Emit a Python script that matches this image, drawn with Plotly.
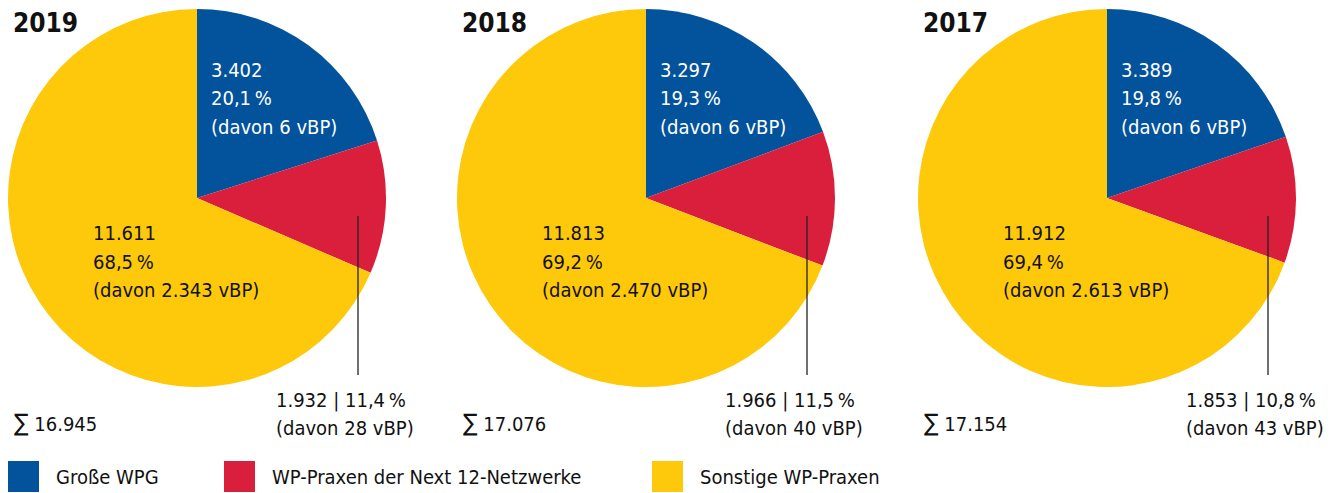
import plotly.graph_objects as go

# ─────────────────────────────────────────────
# Daten
# ─────────────────────────────────────────────
years = ["2019", "2018", "2017"]
categories = ["Große WPG", "WP-Praxen der Next 12-Netzwerke", "Sonstige WP-Praxen"]
colors = ["#02529C", "#DA1F3D", "#FEC80B"]

counts = {
    "2019": [3402, 1932, 11611],
    "2018": [3297, 1966, 11813],
    "2017": [3389, 1853, 11912],
}
shares = {
    "2019": ["20,1", "11,4", "68,5"],
    "2018": ["19,3", "11,5", "69,2"],
    "2017": ["19,8", "10,8", "69,4"],
}
vbp = {
    "2019": ["6", "28", "2.343"],
    "2018": ["6", "40", "2.470"],
    "2017": ["6", "43", "2.613"],
}
totals = {"2019": 16945, "2018": 17076, "2017": 17154}

# ─────────────────────────────────────────────
# Layout-Hilfen (Seiten-Pixel -> Papier)
# body hat 8px Rand, daher Figur etwas kleiner und verschoben
# ─────────────────────────────────────────────
OFF = 8
W, H = 1334 - 2 * OFF, 493 - OFF
centers_x = [197, 646, 1107]
cy = 198
r = 189
FONT = "DejaVu Sans Condensed, Liberation Sans Narrow, Arial Narrow, sans-serif"
FS = 20


def px(x):
    return (x - OFF) / W


def py(y):
    return 1 - (y - OFF) / H


def clamp(v):
    return min(max(v, 0.0), 1.0)


def fmt_int(v):
    return f"{v:,}".replace(",", ".")


fig = go.Figure()
annotations = []
shapes = []


def add_lines(x, ys, lines, color):
    # eine Annotation pro Zeile, damit der Zeilenabstand passt
    for yy, txt in zip(ys, lines):
        annotations.append(dict(
            x=px(x), y=py(yy), text=txt,
            font=dict(size=FS, color=color, family=FONT),
            xanchor="left", yanchor="middle", showarrow=False,
        ))


for yr, cx in zip(years, centers_x):
    fig.add_trace(go.Pie(
        labels=categories, values=counts[yr],
        marker=dict(colors=colors, line=dict(width=0)),
        sort=False, direction="clockwise", rotation=0,
        textinfo="none", hoverinfo="label+value",
        domain=dict(x=[clamp(px(cx - r)), clamp(px(cx + r))],
                    y=[clamp(py(cy + r)), clamp(py(cy - r))]),
        showlegend=False,
    ))
    c, s, v = counts[yr], shares[yr], vbp[yr]

    # Jahr
    annotations.append(dict(
        x=px(cx - 186), y=py(23), text=f"<b>{yr}</b>",
        font=dict(size=26, color="#111111", family=FONT),
        xanchor="left", yanchor="middle", showarrow=False,
    ))
    # Große WPG
    add_lines(cx + 12, [70, 98, 127],
              [fmt_int(c[0]), f"{s[0]}\u2009%", f"(davon {v[0]} vBP)"], "white")
    # Sonstige
    add_lines(cx - 106, [233, 262, 290],
              [fmt_int(c[2]), f"{s[2]}\u2009%", f"(davon {v[2]} vBP)"], "#111111")
    # Next 12
    add_lines(cx + 77, [400, 428],
              [f"{fmt_int(c[1])} | {s[1]}\u2009%", f"(davon {v[1]} vBP)"], "#111111")
    # Summe
    annotations.append(dict(
        x=px(cx - 185), y=py(423),
        text=f"<span style='font-size:24px'>\u2211</span> {fmt_int(totals[yr])}",
        font=dict(size=FS, color="#111111", family=FONT),
        xanchor="left", yanchor="middle", showarrow=False,
    ))
    # Hinweislinie
    shapes.append(dict(
        type="line", xref="paper", yref="paper",
        x0=px(cx + 161), x1=px(cx + 161), y0=py(216), y1=py(375),
        line=dict(color="#222222", width=1.3),
    ))

# Legende
legend_x = [8, 224, 652]
for name, col, lx in zip(categories, colors, legend_x):
    shapes.append(dict(
        type="rect", xref="paper", yref="paper",
        x0=px(lx), x1=px(lx + 31), y0=py(492), y1=py(461),
        fillcolor=col, line=dict(width=0),
    ))
    annotations.append(dict(
        x=px(lx + 46), y=py(477), text=name,
        font=dict(size=FS, color="#111111", family=FONT),
        xanchor="left", yanchor="middle", showarrow=False,
    ))

fig.update_layout(
    width=W, height=H,
    margin=dict(l=0, r=0, t=0, b=0),
    paper_bgcolor="white", plot_bgcolor="white",
    annotations=annotations, shapes=shapes,
    font=dict(family=FONT),
)

fig.write_html("out.html")
